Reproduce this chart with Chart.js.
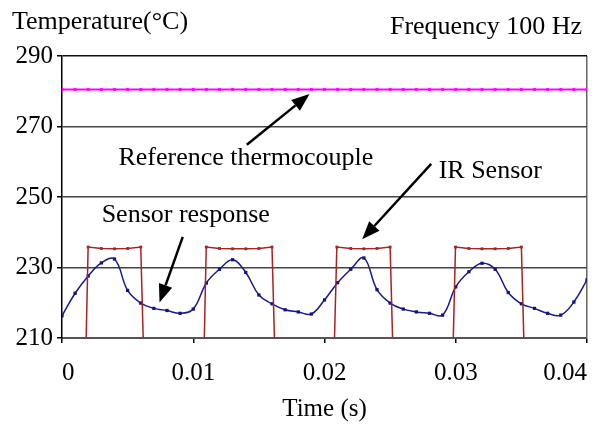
<!DOCTYPE html>
<html>
<head>
<meta charset="utf-8">
<script src="https://cdn.jsdelivr.net/npm/chart.js@4/dist/chart.umd.min.js"></script>
<style>
  html, body { margin: 0; padding: 0; background: #fff; }
</style>
</head>
<body>
<canvas id="myChart" width="601" height="424"></canvas>
<script>
// axis ticks
const timeTicks = [0, 0.01, 0.02, 0.03, 0.04];
const tempTicks = [210, 230, 250, 270, 290];

// sample times (s), one every ms
const sampleTimes = [0, 0.001, 0.002, 0.003, 0.004, 0.005, 0.006, 0.007, 0.008, 0.009,
    0.010, 0.011, 0.012, 0.013, 0.014, 0.015, 0.016, 0.017, 0.018, 0.019,
    0.020, 0.021, 0.022, 0.023, 0.024, 0.025, 0.026, 0.027, 0.028, 0.029,
    0.030, 0.031, 0.032, 0.033, 0.034, 0.035, 0.036, 0.037, 0.038, 0.039, 0.040];

// reference thermocouple
const refTemp = [280.5, 280.5, 280.5, 280.5, 280.5, 280.5, 280.5, 280.5, 280.5, 280.5,
    280.5, 280.5, 280.5, 280.5, 280.5, 280.5, 280.5, 280.5, 280.5, 280.5,
    280.5, 280.5, 280.5, 280.5, 280.5, 280.5, 280.5, 280.5, 280.5, 280.5,
    280.5, 280.5, 280.5, 280.5, 280.5, 280.5, 280.5, 280.5, 280.5, 280.5, 280.5];

// sensor response
const sensorTemp = [216.3, 222.7, 227.6, 231.3, 232.4, 223.5, 219.9, 218.4, 217.8, 217.0,
    218.2, 225.6, 229.5, 232.2, 228.6, 222.2, 219.7, 218.0, 217.4, 216.8,
    220.8, 225.7, 229.5, 232.7, 223.7, 219.9, 218.2, 217.4, 217.0, 216.5,
    224.5, 228.8, 231.2, 229.5, 222.9, 219.7, 218.4, 217.0, 216.5, 220.2, 226.5];

// IR sensor (square pulses, low level sits below the axis)
const irTime = [0, 0.00183, 0.00199, 0.003, 0.004, 0.005, 0.006, 0.0062,
    0.01083, 0.01099, 0.012, 0.013, 0.014, 0.015, 0.016, 0.0162,
    0.02075, 0.02094, 0.022, 0.023, 0.024, 0.025, 0.0252,
    0.0298, 0.02998, 0.031, 0.032, 0.033, 0.034, 0.035, 0.0352, 0.04];
const irTemp = [208, 208, 235.8, 235.4, 235.3, 235.4, 235.8, 208,
    208, 235.8, 235.4, 235.3, 235.3, 235.4, 235.8, 208,
    208, 235.8, 235.4, 235.3, 235.4, 235.8, 208,
    208, 235.8, 235.4, 235.3, 235.3, 235.4, 235.8, 208, 208];

// annotations, in data units (time, temperature)
const noteTexts = ['Reference thermocouple', 'IR Sensor', 'Sensor response'];
const noteTime = [0.01401, 0.03263, 0.00943];
const noteTemp = [259.1, 255.3, 243.0];
const arrowFrom = [[0.01408, 264.8], [0.02813, 259.4], [0.0092, 238.7]];
const arrowTo = [[0.01886, 279.2], [0.02287, 238.0], [0.00743, 220.1]];

const serif = 'Liberation Serif, Times New Roman, serif';

function toPoints(xs, ys) {
    return xs.map(function(x, i) { return { x: x, y: ys[i] }; });
}

function drawArrow(ctx, x1, y1, x2, y2) {
    const ang = Math.atan2(y2 - y1, x2 - x1);
    const len = 18, half = 7;
    const bx = x2 - len * Math.cos(ang), by = y2 - len * Math.sin(ang);
    ctx.beginPath();
    ctx.moveTo(x1, y1);
    ctx.lineTo(bx, by);
    ctx.lineWidth = 2.5;
    ctx.stroke();
    ctx.beginPath();
    ctx.moveTo(x2, y2);
    ctx.lineTo(bx + half * Math.sin(ang), by - half * Math.cos(ang));
    ctx.lineTo(bx - half * Math.sin(ang), by + half * Math.cos(ang));
    ctx.closePath();
    ctx.fill();
}

const notesPlugin = {
    id: 'notes',
    afterDatasetsDraw: function(chart) {
        const ctx = chart.ctx;
        const xs = chart.scales.x, ys = chart.scales.y;
        ctx.save();
        ctx.fillStyle = '#000';
        ctx.strokeStyle = '#000';
        ctx.font = '26px ' + serif;
        ctx.textBaseline = 'alphabetic';
        ctx.textAlign = 'center';
        for (let i = 0; i < noteTexts.length; i++) {
            ctx.fillText(noteTexts[i], xs.getPixelForValue(noteTime[i]), ys.getPixelForValue(noteTemp[i]));
        }
        for (let i = 0; i < arrowFrom.length; i++) {
            drawArrow(ctx,
                xs.getPixelForValue(arrowFrom[i][0]), ys.getPixelForValue(arrowFrom[i][1]),
                xs.getPixelForValue(arrowTo[i][0]), ys.getPixelForValue(arrowTo[i][1]));
        }
        // axis caption and frequency label
        ctx.textAlign = 'left';
        ctx.fillText('Temperature(°C)', 12, 29);
        ctx.textAlign = 'right';
        ctx.fillText('Frequency 100 Hz', 582, 34);
        ctx.restore();
    }
};

const ctx = document.getElementById('myChart').getContext('2d');
const myChart = new Chart(ctx, {
    type: 'scatter',
    data: {
        datasets: [{
            label: 'Reference thermocouple',
            data: toPoints(sampleTimes, refTemp),
            showLine: true,
            borderColor: '#ff00ff',
            backgroundColor: '#ff00ff',
            borderWidth: 2,
            pointStyle: 'rect',
            pointRadius: 2,
            pointBorderWidth: 0
        }, {
            label: 'IR Sensor',
            data: toPoints(irTime, irTemp),
            showLine: true,
            borderColor: '#a52424',
            backgroundColor: '#a52424',
            borderWidth: 1.5,
            pointStyle: 'rect',
            pointRadius: 2,
            pointBorderWidth: 0,
            tension: 0
        }, {
            label: 'Sensor response',
            data: toPoints(sampleTimes, sensorTemp),
            showLine: true,
            borderColor: '#1a1a8c',
            backgroundColor: '#14147a',
            borderWidth: 1.5,
            pointStyle: 'rect',
            pointRadius: 2.3,
            pointBorderWidth: 0,
            tension: 0.4
        }]
    },
    options: {
        responsive: false,
        devicePixelRatio: 1,
        animation: false,
        layout: { padding: { left: 0, top: 56, right: 14, bottom: 0 } },
        plugins: {
            legend: { display: false },
            tooltip: { enabled: false }
        },
        scales: {
            x: {
                type: 'linear',
                min: 0,
                max: 0.04,
                afterBuildTicks: function(scale) {
                    scale.ticks = timeTicks.map(function(v) { return { value: v }; });
                },
                afterFit: function(scale) {
                    scale.height = 86;
                    scale.paddingLeft = 0;
                    scale.paddingRight = 0;
                },
                ticks: {
                    align: 'inner',
                    padding: 15,
                    color: '#000',
                    font: { family: serif, size: 25 },
                    callback: function(value) { return String(value); }
                },
                grid: {
                    drawOnChartArea: true,
                    tickLength: 5,
                    tickColor: '#000',
                    lineWidth: 1.5,
                    color: function(c) {
                        return c.tick && c.tick.value === 0.04 ? '#666' : 'rgba(0,0,0,0)';
                    }
                },
                border: { color: '#555', width: 2 },
                title: {
                    display: true,
                    text: 'Time (s)',
                    color: '#000',
                    font: { family: serif, size: 25 },
                    padding: 0
                }
            },
            y: {
                min: 210,
                max: 290,
                afterBuildTicks: function(scale) {
                    scale.ticks = tempTicks.map(function(v) { return { value: v }; });
                },
                afterFit: function(scale) {
                    scale.width = 62;
                },
                ticks: {
                    padding: 4,
                    color: '#000',
                    font: { family: serif, size: 25 }
                },
                grid: {
                    tickLength: 5,
                    tickColor: '#000',
                    lineWidth: 1.5,
                    color: function(c) {
                        return c.tick && c.tick.value === 290 ? '#111' : '#444';
                    }
                },
                border: { color: '#000', width: 1.5 }
            }
        }
    },
    plugins: [notesPlugin]
});
</script>
</body>
</html>
